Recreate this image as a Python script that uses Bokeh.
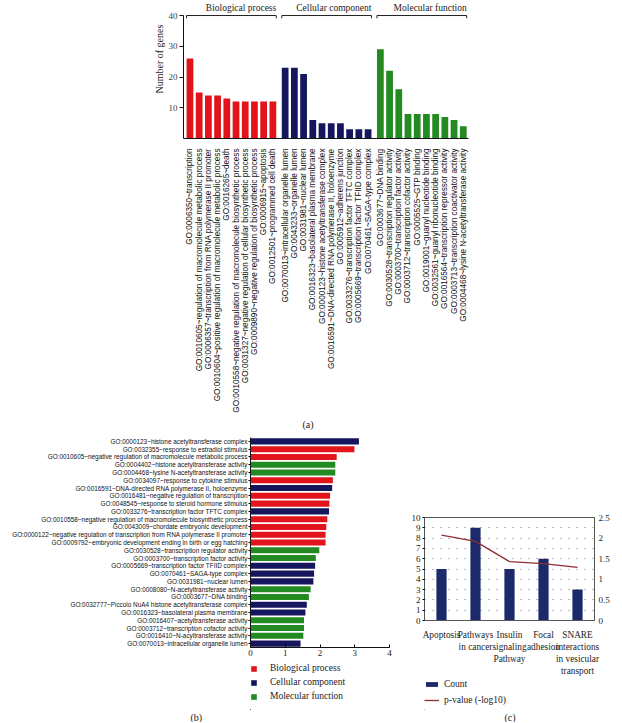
import math
from bokeh.plotting import figure
from bokeh.layouts import column, row
from bokeh.models import (Range1d, FactorRange, FixedTicker, LinearAxis, Title,
                          Legend, LegendItem)
from bokeh.core.properties import value
from bokeh.embed import file_html
from bokeh.resources import INLINE

SANS = "Liberation Sans"
SERIF = "Liberation Serif"
RED = "#E0141A"
NAVY = "#16165E"
GREEN = "#228A20"
C_BAR = "#1C2A6C"
C_LINE = "#8E2E2E"
TXT = "#222222"

# ---------------- Panel (a) data ----------------
group_names = ["Biological process", "Cellular component", "Molecular function"]
bp_terms = [
    "GO:0006350~transcription",
    "GO:0010605~regulation of macromolecule metabolic process",
    "GO:0006357~transcription from RNA polymerase II promoter",
    "GO:0010604~positive regulation of macromolecule metabolic process",
    "GO:0016265~death",
    "GO:0010558~negative regulation of macromolecule biosynthetic process",
    "GO:0031327~negative regulation of cellular biosynthetic process",
    "GO:0009890~negative regulation of biosynthetic process",
    "GO:0006915~apoptosis",
    "GO:0012501~programmed cell death",
]
bp_counts = [26, 15, 14, 14, 13, 12, 12, 12, 12, 12]
cc_terms = [
    "GO:0070013~intracellular organelle lumen",
    "GO:0043233~organelle lumen",
    "GO:0031981~nuclear lumen",
    "GO:0016323~basolateral plasma membrane",
    "GO:0000123~histone acetyltransferase complex",
    "GO:0016591~DNA-directed RNA polymerase II, holoenzyme",
    "GO:0005912~adherens junction",
    "GO:0033276~transcription factor TFTC complex",
    "GO:0005669~transcription factor TFIID complex",
    "GO:0070461~SAGA-type complex",
]
cc_counts = [23, 23, 21, 6, 5, 5, 5, 3, 3, 3]
mf_terms = [
    "GO:0003677~DNA binding",
    "GO:0030528~transcription regulator activity",
    "GO:0003700~transcription factor activity",
    "GO:0003712~transcription cofactor activity",
    "GO:0005525~GTP binding",
    "GO:0019001~guanyl nucleotide binding",
    "GO:0032561~guanyl ribonucleotide binding",
    "GO:0016564~transcription repressor activity",
    "GO:0003713~transcription coactivator activity",
    "GO:0004468~lysine N-acetyltransferase activity",
]
mf_counts = [29, 22, 16, 8, 8, 8, 8, 7, 6, 4]
a_ticks = [10, 20, 30, 40]

# ---------------- Panel (b) data ----------------
b_terms = [
    "GO:0000123~histone acetyltransferase complex",
    "GO:0032355~response to estradiol stimulus",
    "GO:0010605~negative regulation of macromolecule metabolic process",
    "GO:0004402~histone acetyltransferase activity",
    "GO:0004468~lysine N-acetyltransferase activity",
    "GO:0034097~response to cytokine stimulus",
    "GO:0016591~DNA-directed RNA polymerase II, holoenzyme",
    "GO:0016481~negative regulation of transcription",
    "GO:0048545~response to steroid hormone stimulus",
    "GO:0033276~transcription factor TFTC complex",
    "GO:0010558~negative regulation of macromolecule biosynthetic process",
    "GO:0043009~chordate embryonic development",
    "GO:0000122~negative regulation of transcription from RNA polymerase II promoter",
    "GO:0009792~embryonic development ending in birth or egg hatching",
    "GO:0030528~transcription regulator activity",
    "GO:0003700~transcription factor activity",
    "GO:0005669~transcription factor TFIID complex",
    "GO:0070461~SAGA-type complex",
    "GO:0031981~nuclear lumen",
    "GO:0008080~N-acetyltransferase activity",
    "GO:0003677~DNA binding",
    "GO:0032777~Piccolo NuA4 histone acetyltransferase complex",
    "GO:0016323~basolateral plasma membrane",
    "GO:0016407~acetyltransferase activity",
    "GO:0003712~transcription cofactor activity",
    "GO:0016410~N-acyltransferase activity",
    "GO:0070013~intracellular organelle lumen",
]
b_values = [3.12, 2.99, 2.48, 2.44, 2.44, 2.37, 2.35, 2.29, 2.27, 2.26, 2.21, 2.18,
            2.16, 2.16, 1.98, 1.88, 1.86, 1.83, 1.81, 1.73, 1.68, 1.62, 1.58, 1.54,
            1.54, 1.52, 1.44]
b_cats = ["CC", "BP", "BP", "MF", "MF", "BP", "CC", "BP", "BP", "CC", "BP", "BP", "BP",
          "BP", "MF", "MF", "CC", "CC", "CC", "MF", "MF", "CC", "CC", "MF", "MF", "MF", "CC"]
b_ticks = [0, 1, 2, 3, 4]

# ---------------- Panel (c) data ----------------
c_pathways = ["Apoptosis", "Pathways\nin cancer", "Insulin\nsignaling\nPathway",
              "Focal\nadhesion", "SNARE\ninteractions\nin vesicular\ntransport"]
c_counts = [5, 9, 5, 6, 3]
c_pvalues = [2.07, 1.92, 1.43, 1.38, 1.29]
c_left_ticks = list(range(0, 11))
c_right_ticks = [0, 0.5, 1, 1.5, 2, 2.5]
c_right_labels = ["0", "0.5", "1", "1.5", "2", "2.5"]


def title(text, offset, standoff, size="10px"):
    return Title(text=text, align="left", offset=offset, standoff=standoff,
                 text_font=SERIF, text_font_size=size, text_font_style="normal",
                 text_color=TXT)


def legend_strip(width, height, left, right):
    # the strip only shows a legend: its ranges lie far away from the data it holds
    f = figure(width=width, height=height, output_backend="svg", toolbar_location=None,
               x_range=Range1d(100, 101), y_range=Range1d(100, 101),
               min_border_left=left, min_border_right=right, min_border_top=0,
               min_border_bottom=0)
    f.axis.visible = False
    f.grid.visible = False
    f.outline_line_color = None
    return f


# ======================= Panel (a) =======================
SLOT = 3
groups = [(bp_terms, bp_counts, RED), (cc_terms, cc_counts, NAVY), (mf_terms, mf_counts, GREEN)]
all_pos, all_labels, group_pos = [], [], []
for g, (terms, counts, col) in enumerate(groups):
    pos = [g * (len(terms) * SLOT + 1) + i * SLOT for i in range(len(terms))]
    group_pos.append(pos)
    all_pos += pos
    all_labels += terms

pa = figure(width=622, height=430, output_backend="svg", toolbar_location=None,
            x_range=Range1d(all_pos[0] - 2.1, all_pos[-1] + 1.7),
            y_range=Range1d(0, 40 * 147 / 131),
            min_border_left=183, min_border_right=154, min_border_top=0,
            min_border_bottom=283)
pa.outline_line_color = None
pa.xgrid.visible = False
pa.ygrid.visible = False

for (terms, counts, col), pos in zip(groups, group_pos):
    pa.vbar(x=pos, top=counts, bottom=0, width=2.2, fill_color=col, line_color=None)

bx, by = [], []
for pos in group_pos:
    x0, x1 = pos[0] - 1.1, pos[-1] + 1.1
    bx.append([x0, x0, x1, x1])
    by.append([39.1, 40.0, 40.0, 39.1])
pa.multi_line(xs=bx, ys=by, line_color=TXT, line_width=1)
pa.text(x=[pos[-1] + 1.1 for pos in group_pos], y=[42.3] * 3, text=group_names,
        text_align="right", text_baseline="alphabetic", text_font=value(SERIF),
        text_font_size="9.5px", text_color=TXT)

xa = pa.xaxis[0]
xa.ticker = FixedTicker(ticks=all_pos)
xa.major_label_overrides = {p: t for p, t in zip(all_pos, all_labels)}
xa.major_label_orientation = math.pi / 2
xa.major_label_text_font = SANS
xa.major_label_text_font_size = "8.2px"
xa.major_label_text_color = "#111111"
xa.major_label_standoff = 4
xa.major_tick_line_color = None
xa.minor_tick_line_color = None
xa.axis_line_color = "#111111"

ya = pa.yaxis[0]
ya.ticker = FixedTicker(ticks=a_ticks)
ya.bounds = (0, 40)
ya.major_tick_out = 4
ya.major_tick_in = 0
ya.minor_tick_line_color = None
ya.major_label_text_font = SERIF
ya.major_label_text_font_size = "9px"
ya.major_label_standoff = 2
ya.axis_line_color = "#111111"
ya.major_tick_line_color = "#111111"

pa.add_layout(title("Number of genes", 45, 2), "left")
pa.add_layout(title("(a)", 119, 2), "below")

# ======================= Panel (b) =======================
pb = figure(width=395, height=232, output_backend="svg", toolbar_location=None,
            x_range=Range1d(0, 4), y_range=FactorRange(factors=list(reversed(b_terms))),
            min_border_left=250, min_border_right=6, min_border_top=7,
            min_border_bottom=15)
pb.outline_line_color = None
pb.xgrid.visible = False
pb.ygrid.visible = False

cat_info = [("BP", "Biological process", RED), ("CC", "Cellular component", NAVY),
            ("MF", "Molecular function", GREEN)]
for key, name, col in cat_info:
    ys = [t for t, c in zip(b_terms, b_cats) if c == key]
    vs = [v for v, c in zip(b_values, b_cats) if c == key]
    pb.hbar(y=ys, right=vs, left=0, height=0.78, fill_color=col, line_color=None)

xb = pb.xaxis[0]
xb.ticker = FixedTicker(ticks=b_ticks)
xb.major_label_text_font = SERIF
xb.major_label_text_font_size = "9px"
xb.major_label_text_color = TXT
xb.major_tick_in = 3
xb.major_tick_out = 0
xb.minor_tick_line_color = None
xb.major_label_standoff = 2
xb.axis_line_color = "#111111"

ybx = pb.yaxis[0]
ybx.major_label_text_font = SANS
ybx.major_label_text_font_size = "6.4px"
ybx.major_label_text_color = "#111111"
ybx.major_tick_out = 2
ybx.major_tick_in = 0
ybx.major_label_standoff = 1
ybx.axis_line_color = "#111111"

# legend strip of (b)
pbl = legend_strip(395, 60, 248, 0)
leg_items = []
for key, name, col in cat_info:
    vs = [v for v, c in zip(b_values, b_cats) if c == key]
    r = pbl.hbar(y=list(range(len(vs))), right=vs, left=0, height=0.5,
                 fill_color=col, line_color=None)
    leg_items.append(LegendItem(label=name, renderers=[r]))
leg_b = Legend(items=leg_items, location="top_left", orientation="vertical",
               glyph_width=7, glyph_height=7, label_height=12, spacing=2,
               label_standoff=13, padding=2, margin=0,
               label_text_font=SERIF, label_text_font_size="9.5px",
               label_text_color=TXT, border_line_color=None,
               background_fill_alpha=0)
pbl.add_layout(leg_b)
pbl.add_layout(title("(b)", -60, 0), "below")

# ======================= Panel (c) =======================
pc = figure(width=227, height=248, output_backend="svg", toolbar_location=None,
            x_range=FactorRange(factors=c_pathways), y_range=Range1d(0, 10),
            min_border_left=24, min_border_right=19, min_border_top=87,
            min_border_bottom=51)
pc.extra_y_ranges = {"p": Range1d(0, 2.5)}
pc.outline_line_color = "#555555"
pc.xgrid.visible = False
pc.ygrid.ticker = FixedTicker(ticks=c_left_ticks[1:-1])
pc.ygrid.grid_line_color = "#777777"
pc.ygrid.grid_line_dash = "1 7"
pc.ygrid.grid_line_width = 1

pc.vbar(x=c_pathways, top=c_counts, width=0.3, fill_color=C_BAR, line_color=None)
pc.line(x=c_pathways, y=c_pvalues, y_range_name="p", line_color=C_LINE, line_width=1.3)

xc = pc.xaxis[0]
xc.major_label_text_font = SERIF
xc.major_label_text_font_size = "9.3px"
xc.major_label_text_color = TXT
xc.major_tick_line_color = None
xc.minor_tick_line_color = None
xc.major_label_standoff = 3
xc.axis_line_color = "#555555"

ycl = pc.yaxis[0]
ycl.ticker = FixedTicker(ticks=c_left_ticks)
ycl.major_label_text_font = SERIF
ycl.major_label_text_font_size = "9px"
ycl.major_label_text_color = TXT
ycl.major_tick_out = 2
ycl.major_tick_in = 0
ycl.minor_tick_line_color = None
ycl.major_label_standoff = 2
ycl.axis_line_color = "#555555"

ycr = LinearAxis(y_range_name="p", ticker=FixedTicker(ticks=c_right_ticks),
                 major_label_overrides={k: v for k, v in zip(c_right_ticks, c_right_labels)})
ycr.major_label_text_font = SERIF
ycr.major_label_text_font_size = "9px"
ycr.major_label_text_color = TXT
ycr.major_tick_out = 0
ycr.major_tick_in = 0
ycr.minor_tick_line_color = None
ycr.major_label_standoff = 4
ycr.axis_line_color = "#555555"
pc.add_layout(ycr, "right")

# legend strip of (c)
pcl = legend_strip(227, 44, 29, 28)
rb = pcl.vbar(x=list(range(len(c_counts))), top=c_counts, width=0.3,
              fill_color=C_BAR, line_color=None)
rl = pcl.line(x=list(range(len(c_pvalues))), y=c_pvalues, line_color=C_LINE,
              line_width=1.3)
leg_c = Legend(items=[LegendItem(label="Count", renderers=[rb]),
                      LegendItem(label="p-value (-log10)", renderers=[rl])],
               location="top_left", orientation="vertical",
               glyph_width=15, glyph_height=6, label_height=12, spacing=4,
               label_standoff=5, padding=0, margin=0,
               label_text_font=SERIF, label_text_font_size="9.5px",
               label_text_color=TXT, border_line_color=None,
               background_fill_alpha=0)
pcl.add_layout(leg_c)
pcl.add_layout(title("(c)", 80, 0), "below")

layout = column(pa, row(column(pb, pbl), column(pc, pcl)))
open("out.html", "w").write(file_html(layout, INLINE))
